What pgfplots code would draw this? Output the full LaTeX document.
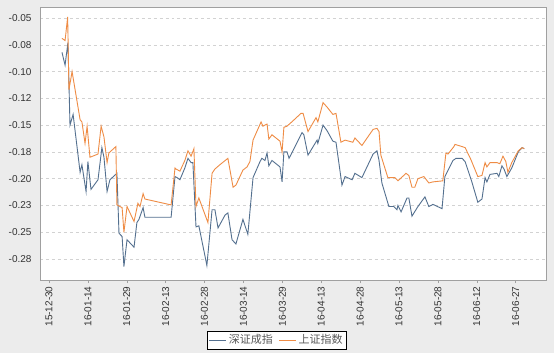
\documentclass[border=0pt]{standalone}
\usepackage{fontspec}
\setmainfont{Liberation Sans}
\newfontfamily\cjk{Noto Sans CJK SC}
\usepackage{pgfplots}
\pgfplotsset{compat=1.18}
\definecolor{bgg}{RGB}{236,236,236}
\definecolor{szblue}{RGB}{84,112,143}
\definecolor{shorange}{RGB}{239,140,69}
\definecolor{gridg}{RGB}{210,210,210}
\definecolor{frameg}{RGB}{160,160,160}
\begin{document}
\begin{tikzpicture}
\useasboundingbox (0,0) rectangle (554bp,353bp);
\fill[bgg] (0,0) rectangle (554bp,353bp);
\begin{axis}[
  at={(40bp,73bp)}, anchor=south west,
  scale only axis, width=506bp, height=273bp,
  xmin=-3.47, xmax=191.7, ymin=-0.2946, ymax=-0.0397,
  axis background/.style={fill=white},
  axis line style={frameg},
  xtick={0,15,...,180},
  xticklabels={15-12-30,16-01-14,16-01-29,16-02-13,16-02-28,16-03-14,16-03-29,16-04-13,16-04-28,16-05-13,16-05-28,16-06-12,16-06-27},
  xticklabel style={rotate=90, anchor=east, font=\fontsize{10bp}{12bp}\selectfont, text=black!80},
  xtick style={draw=frameg, thin},
  tick align=outside, major tick length=3bp,
  xtick pos=bottom,
  ytick={-0.275,-0.25,-0.225,-0.2,-0.175,-0.15,-0.125,-0.1,-0.075,-0.05},
  yticklabels={-0.28,-0.25,-0.23,-0.20,-0.18,-0.15,-0.12,-0.10,-0.08,-0.05},
  yticklabel style={font=\fontsize{10bp}{12bp}\selectfont, text=black!80, xshift=-2bp},
  ytick style={draw=none},
  ymajorgrids, major grid style={gridg, dashed, line width=0.5bp},
  /pgf/number format/assume math mode=true,
  legend columns=2,
  legend style={at={(axis description cs:0.468,-0.187)}, anchor=north, draw=black, fill=white,
    font=\fontsize{11bp}{13bp}\selectfont\cjk, text=black!65, inner sep=1.5bp,
    /tikz/every even column/.append style={column sep=4bp}},
  legend image post style={line width=0.9bp},
]
\addplot[szblue, line width=0.9bp] coordinates {
(5.0,-0.082) (6.2,-0.094) (7.3,-0.073) (8.1,-0.150) (9.3,-0.140) (12.0,-0.194) (12.7,-0.187)
(14.3,-0.212) (15.0,-0.184) (16.2,-0.210) (18.9,-0.201) (20.4,-0.171) (21.2,-0.180) (22.4,-0.212)
(23.5,-0.201) (26.2,-0.195) (27.0,-0.251) (28.2,-0.254) (28.9,-0.282) (30.1,-0.257) (32.8,-0.264)
(33.9,-0.241) (34.7,-0.238) (36.3,-0.227) (37.0,-0.236) (47.1,-0.236) (48.6,-0.198) (49.4,-0.199)
(50.5,-0.201) (52.4,-0.190) (53.6,-0.181) (54.8,-0.185) (55.5,-0.185) (56.7,-0.245) (57.8,-0.244)
(60.9,-0.281) (62.9,-0.229) (64.0,-0.229) (65.2,-0.246) (67.9,-0.234) (69.0,-0.232) (70.6,-0.257)
(72.1,-0.261) (74.8,-0.238) (76.7,-0.252) (78.7,-0.199) (81.4,-0.184) (82.1,-0.181) (83.3,-0.183)
(84.1,-0.176) (84.8,-0.188) (86.0,-0.183) (89.1,-0.189) (89.9,-0.203) (90.6,-0.175) (91.8,-0.175)
(92.6,-0.181) (97.6,-0.157) (98.3,-0.159) (99.9,-0.178) (103.4,-0.164) (103.7,-0.167) (105.7,-0.150)
(107.2,-0.155) (109.5,-0.165) (110.7,-0.166) (113.0,-0.206) (114.2,-0.198) (116.9,-0.201) (118.0,-0.195)
(120.7,-0.199) (125.0,-0.177) (126.5,-0.174) (127.3,-0.183) (128.4,-0.204) (131.1,-0.226) (133.0,-0.226)
(134.2,-0.229) (134.6,-0.225) (135.8,-0.231) (138.1,-0.218) (138.8,-0.218) (140.0,-0.235) (142.3,-0.226)
(145.0,-0.217) (146.5,-0.226) (148.1,-0.224) (151.6,-0.228) (152.7,-0.198) (155.8,-0.183) (157.0,-0.181)
(159.3,-0.181) (160.5,-0.184) (163.1,-0.203) (165.4,-0.222) (167.0,-0.219) (168.2,-0.199) (168.9,-0.203)
(170.1,-0.196) (172.8,-0.195) (173.5,-0.198) (174.7,-0.188) (175.5,-0.191) (176.6,-0.198) (178.5,-0.190)
(181.0,-0.175) (182.5,-0.171) (183.3,-0.172)
};
\addlegendentry{深证成指}
\addplot[shorange, line width=0.9bp] coordinates {
(5.0,-0.069) (6.2,-0.071) (7.2,-0.049) (7.7,-0.117) (8.9,-0.100) (12.0,-0.145) (12.7,-0.147)
(13.9,-0.167) (14.7,-0.151) (15.8,-0.180) (18.9,-0.177) (20.1,-0.151) (21.2,-0.161) (22.4,-0.185)
(23.1,-0.176) (25.8,-0.170) (26.2,-0.2245) (28.2,-0.227) (28.9,-0.250) (30.1,-0.226) (32.8,-0.240)
(34.3,-0.223) (35.1,-0.226) (36.3,-0.214) (37.0,-0.219) (47.1,-0.2245) (48.6,-0.190) (49.0,-0.191)
(50.5,-0.193) (52.4,-0.183) (53.6,-0.174) (54.8,-0.179) (55.9,-0.172) (56.7,-0.226) (57.8,-0.218)
(61.3,-0.241) (62.9,-0.195) (64.0,-0.191) (65.9,-0.187) (69.0,-0.181) (71.0,-0.208) (72.1,-0.206)
(74.8,-0.192) (76.4,-0.189) (77.5,-0.184) (78.7,-0.164) (81.8,-0.147) (82.5,-0.151) (84.1,-0.149)
(84.8,-0.163) (86.0,-0.159) (89.1,-0.165) (89.9,-0.175) (90.6,-0.152) (91.8,-0.151) (94.1,-0.146)
(97.2,-0.139) (98.0,-0.139) (99.9,-0.156) (103.0,-0.143) (103.7,-0.147) (105.7,-0.129) (107.2,-0.133)
(109.5,-0.140) (110.7,-0.139) (112.6,-0.166) (114.2,-0.164) (117.2,-0.166) (118.0,-0.162) (120.7,-0.169)
(125.0,-0.154) (126.5,-0.153) (127.3,-0.156) (128.0,-0.178) (130.7,-0.199) (133.4,-0.199) (134.6,-0.202)
(137.7,-0.195) (138.8,-0.197) (140.0,-0.208) (141.1,-0.208) (142.3,-0.200) (144.6,-0.198) (146.5,-0.204)
(148.1,-0.203) (151.9,-0.202) (153.1,-0.176) (153.9,-0.177) (156.2,-0.170) (156.6,-0.168) (159.3,-0.170)
(160.5,-0.171) (162.7,-0.182) (165.4,-0.198) (167.0,-0.197) (168.2,-0.185) (168.9,-0.189) (170.1,-0.185)
(172.8,-0.185) (173.9,-0.186) (175.1,-0.179) (176.2,-0.184) (177.0,-0.194) (178.5,-0.185) (181.0,-0.174)
(182.5,-0.171) (183.3,-0.172)
};
\addlegendentry{上证指数}
\end{axis}
\end{tikzpicture}
\end{document}
